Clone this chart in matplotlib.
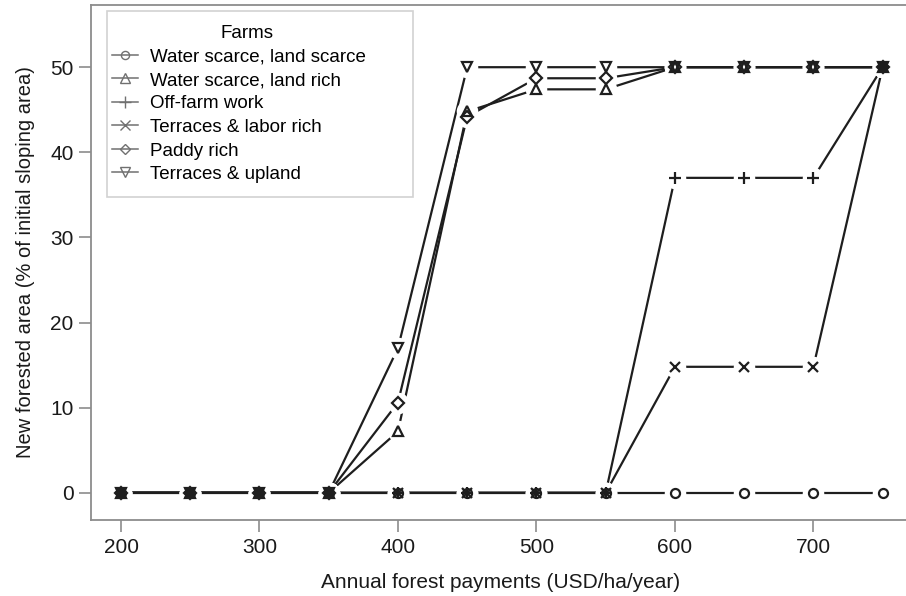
import matplotlib
matplotlib.use('Agg')
import matplotlib.pyplot as plt
from matplotlib.lines import Line2D
from matplotlib.patches import Rectangle

plt.rcParams['font.family'] = ['Liberation Sans', 'DejaVu Sans']

payments = [200, 250, 300, 350, 400, 450, 500, 550, 600, 650, 700, 750]

farm_names = [
    'Water scarce, land scarce',
    'Water scarce, land rich',
    'Off-farm work',
    'Terraces & labor rich',
    'Paddy rich',
    'Terraces & upland',
]
water_scarce_land_scarce = [0, 0, 0, 0, 0, 0, 0, 0, 0, 0, 0, 0]
water_scarce_land_rich = [0, 0, 0, 0, 7.2, 44.8, 47.4, 47.4, 50, 50, 50, 50]
off_farm_work = [0, 0, 0, 0, 0, 0, 0, 0, 37, 37, 37, 50]
terraces_labor_rich = [0, 0, 0, 0, 0, 0, 0, 0, 14.8, 14.8, 14.8, 50]
paddy_rich = [0, 0, 0, 0, 10.6, 44.2, 48.7, 48.7, 50, 50, 50, 50]
terraces_upland = [0, 0, 0, 0, 17, 50, 50, 50, 50, 50, 50, 50]

series = [water_scarce_land_scarce, water_scarce_land_rich, off_farm_work,
          terraces_labor_rich, paddy_rich, terraces_upland]
markers = ['o', '^', '+', 'x', 'D', 'v']
msizes = [6.5, 7.5, 9, 7.5, 6, 7.5]

ink = '#1e1e1e'
frame = '#8c8c8c'

fig = plt.figure(figsize=(9.06, 5.96), dpi=100)
ax = fig.add_axes([0.1004, 0.1275, 0.905, 0.864])

for vals, m, ms in zip(series, markers, msizes):
    # connecting lines, broken around each point like R's type="b"
    ax.plot(payments, vals, color=ink, lw=1.6, zorder=2, solid_capstyle='butt')
    ax.plot(payments, vals, ls='none', marker='o', ms=15.5, mfc='white',
            mec='none', zorder=3)
    ax.plot(payments, vals, ls='none', marker=m, ms=ms, mfc='none',
            mec=ink, mew=1.6, zorder=4)

ax.set_xlim(178.3, 770.4)
ax.set_ylim(-3.2, 57.3)
ax.set_xticks([200, 300, 400, 500, 600, 700])
ax.set_yticks([0, 10, 20, 30, 40, 50])

for s in ax.spines.values():
    s.set_color(frame)
    s.set_linewidth(1.3)
ax.tick_params(colors=frame, labelcolor='#1a1a1a', length=8.6, width=1.2,
               labelsize=15, pad=4)
ax.set_xlabel('Annual forest payments (USD/ha/year)', fontsize=15,
              labelpad=12, color='#1a1a1a')
ax.set_ylabel('New forested area (% of initial sloping area)', fontsize=14.5,
              labelpad=11, color='#1a1a1a')

# legend box drawn separately so it can be wider than its contents
box = Rectangle((107 / 906, 1 - 197 / 596), 306 / 906, 186 / 596,
                transform=fig.transFigure, facecolor='white',
                edgecolor='#d2d2d2', lw=1.2, zorder=5)
ax.add_artist(box)

handles = [Line2D([], [], color='#707070', lw=1.1, marker=m, ms=ms * 0.9,
                  mfc='none', mec='#707070', mew=1.0)
           for m, ms in zip(markers, msizes)]
leg = ax.legend(handles, farm_names, title='Farms', loc='upper left',
                bbox_to_anchor=(112 / 906, 1 - 25 / 596),
                bbox_transform=fig.transFigure, borderaxespad=0, borderpad=0,
                fontsize=13.5, title_fontsize=13.5, frameon=False,
                handlelength=1.4, handletextpad=0.64, labelspacing=0.34)
leg.set_zorder(6)
leg.get_title().set_position((8, 0))

fig.savefig('out.png', dpi=100)
